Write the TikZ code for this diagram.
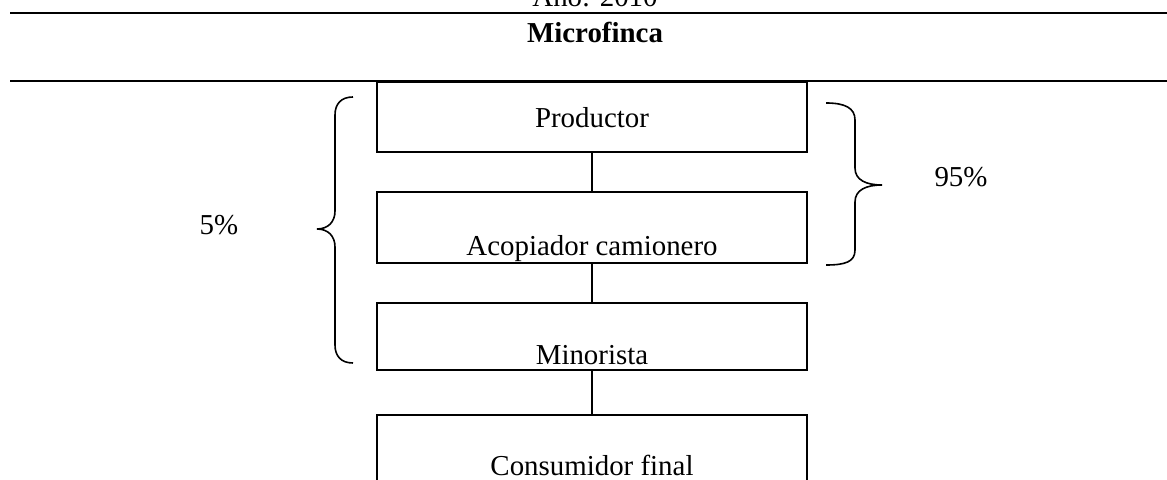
\documentclass[tikz,border=0pt]{standalone}
\usepackage{fontspec}
\setmainfont{Liberation Serif}
\begin{document}
\begin{tikzpicture}[x=0.5bp,y=-0.5bp, line width=0.75bp,
  box/.style={draw, minimum width=215bp, inner sep=0pt},
  lbl/.style={anchor=base, inner sep=0pt, font=\fontsize{14.5}{17}\selectfont},
  rule/.style={line width=1bp},
  brace/.style={line width=0.8bp}]
\useasboundingbox (0,0) rectangle (1167,480);
\clip (0,0) rectangle (1167,480);
% header
\node[lbl] (yr) at (595,7) {Año: 2010};
\node[lbl] (mf) at (595,43) {\bfseries Microfinca};
\coordinate (r1a) at (10,13);
\coordinate (r1b) at (1167,13);
\coordinate (r2a) at (10,81.5);
\coordinate (r2b) at (1167,81.5);
\draw[rule] (r1a) -- (r1b);
\draw[rule] (r2a) -- (r2b);
% boxes
\node[box, minimum height=35bp] (p) at (592,117) {};
\node[box, minimum height=35.5bp] (a) at (592,227.5) {};
\node[box, minimum height=33.5bp] (m) at (592,336.5) {};
\node[box, minimum height=42.5bp] (c) at (592,457.5) {};
\node[lbl] (pt) at (592,128) {Productor};
\node[lbl] (at) at (592,256) {Acopiador camionero};
\node[lbl] (mt) at (592,365) {Minorista};
\node[lbl] (ct) at (592,475) {Consumidor final};
% connectors
\draw (p.south) -- (a.north);
\draw (a.south) -- (m.north);
\draw (m.south) -- (c.north);
% braces
\draw[brace] (353,97) .. controls (341,97) and (335,104) .. (335,115) -- (335,211)
  .. controls (335,222) and (328,229) .. (317,229)
  .. controls (328,229) and (335,236) .. (335,247) -- (335,345)
  .. controls (335,356) and (341,363) .. (353,363);
\draw[brace] (826,103) .. controls (845,103) and (855,108) .. (855,120) -- (855,168)
  .. controls (855,180) and (866,185) .. (882,185)
  .. controls (866,185) and (855,190) .. (855,202) -- (855,250)
  .. controls (855,262) and (845,265) .. (826,265);
\node[lbl] (five) at (219,235) {5\%};
\node[lbl] (ninetyfive) at (961,187) {95\%};
\end{tikzpicture}
\end{document}
